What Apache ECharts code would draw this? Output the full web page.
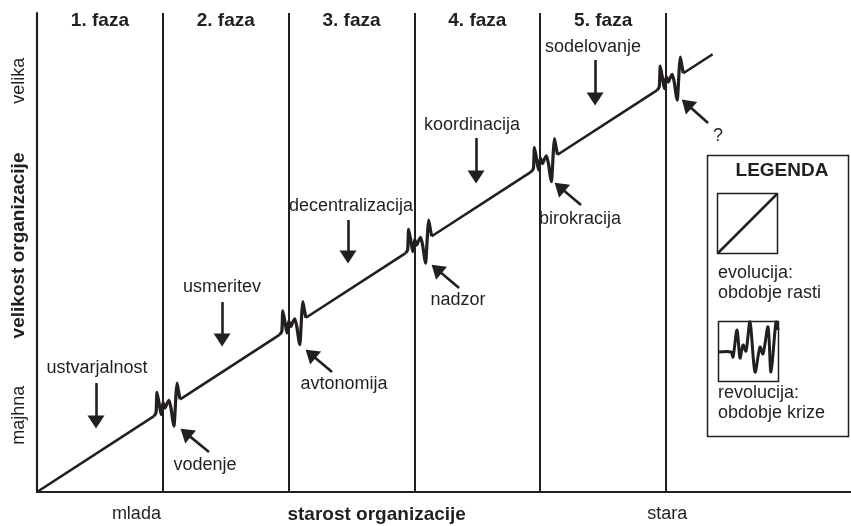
<!DOCTYPE html>
<html>
<head>
<meta charset="utf-8">
<title>Greinerjev model rasti organizacije</title>
<script src="https://cdn.jsdelivr.net/npm/echarts@6/dist/echarts.min.js"></script>
<style>
    html, body { margin: 0; padding: 0; background: #fff; }
    #chart_show { width: 851px; height: 526px; }
</style>
</head>
<body>
<div id="chart_show"></div>
<script>
// meje osi (enota = širina ene faze)
var xMax = 6.47;
var yMax = 3.808;

// faze
var phaseX = [1, 2, 3, 4, 5];
var phaseTitleX = [0.5, 1.5, 2.5, 3.5, 4.5];
var phaseTitleY = 3.744;
var phaseTitles = ['1. faza', '2. faza', '3. faza', '4. faza', '5. faza'];

// evolucija - začetek in konec krivulje rasti
var growthStart = [0, 0];
var growthEnd = [5.37, 3.48];

// revolucija - kje se začne vsaka kriza in oblika krize
var crisisX = [0.93, 1.93, 2.93, 3.93, 4.93];
var crisisY = [0.603, 1.251, 1.899, 2.547, 3.195];
var wiggleDx = [0, 0.016, 0.024, 0.040, 0.056, 0.072, 0.087, 0.103, 0.119, 0.135, 0.151, 0.159, 0.167, 0.175, 0.183, 0.195, 0.207];
var wiggleDy = [0, 0.026, 0.190, 0.105, 0.012, 0.110, 0.064, 0.099, 0.125, 0.064, -0.045, -0.079, 0.029, 0.177, 0.262, 0.198, 0.134];

// obdobja rasti (nad krivuljo)
var stageLabels = ['ustvarjalnost', 'usmeritev', 'decentralizacija', 'koordinacija', 'sodelovanje'];
var stageLabelX = [0.477, 1.471, 2.496, 3.458, 4.420];
var stageLabelY = [0.986, 1.630, 2.273, 2.917, 3.537];
var stageArrowX = [0.469, 1.471, 2.472, 3.490, 4.436];
var stageArrowTop = [0.866, 1.510, 2.162, 2.814, 3.434];
var stageArrowEnd = [0.556, 1.208, 1.868, 2.504, 3.124];

// krize (pod krivuljo)
var crisisLabels = ['vodenje', 'avtonomija', 'nadzor', 'birokracija', '?'];
var crisisLabelX = [1.335, 2.440, 3.347, 4.316, 5.413];
var crisisLabelY = [0.215, 0.859, 1.526, 2.170, 2.830];
var crisisArrowTailX = [1.367, 2.345, 3.355, 4.324, 5.334];
var crisisArrowTailY = [0.318, 0.954, 1.622, 2.281, 2.933];
var crisisArrowHeadX = [1.181, 2.175, 3.176, 4.154, 5.164];
var crisisArrowHeadY = [0.470, 1.098, 1.773, 2.425, 3.085];

// oznake osi
var xLabelValues = [0.79, 2.70, 5.01];
var xLabels = ['mlada', '{b|starost organizacije}', 'stara'];
var yLabelValues = [0.61, 1.96, 3.27];
var yLabels = ['majhna', '{b|velikost organizacije}', 'velika'];

(function () {
    var ink = '#231f20';
    var font = '"Liberation Sans", Arial, Helvetica, sans-serif';

    var Growth_Chart = {
        init: function () {
            var myChart = echarts.init(document.getElementById('chart_show'));
            myChart.setOption(this.formatChart());
        },
        textSeries: function (xs, ys, texts, size, weight) {
            return {
                type: 'scatter',
                silent: true,
                symbolSize: 1,
                itemStyle: { color: 'rgba(0,0,0,0)', opacity: 1 },
                data: xs.map(function (x, i) { return [x, ys[i], texts[i]]; }),
                label: {
                    show: true,
                    position: 'inside',
                    formatter: function (p) { return p.data[2]; },
                    color: ink,
                    opacity: 1,
                    fontFamily: font,
                    fontSize: size,
                    fontWeight: weight
                },
                z: 5
            };
        },
        buildSeries: function () {
            var series = [];
            var i, k;

            // navpične črte med fazami
            series.push({
                type: 'line',
                data: [],
                silent: true,
                markLine: {
                    silent: true,
                    symbol: 'none',
                    label: { show: false },
                    lineStyle: { color: ink, width: 2, type: 'solid' },
                    data: phaseX.map(function (x) { return { xAxis: x }; })
                }
            });

            // evolucija
            var last = wiggleDx.length - 1;
            var from = growthStart;
            for (i = 0; i <= crisisX.length; i++) {
                var to = i < crisisX.length ? [crisisX[i], crisisY[i]] : growthEnd;
                series.push({
                    type: 'line',
                    silent: true,
                    symbol: 'none',
                    lineStyle: { color: ink, width: 2.6 },
                    data: [from, to],
                    z: 3
                });
                if (i < crisisX.length) {
                    from = [crisisX[i] + wiggleDx[last], crisisY[i] + wiggleDy[last]];
                }
            }

            // revolucija
            for (i = 0; i < crisisX.length; i++) {
                var pts = [];
                for (k = 0; k < wiggleDx.length; k++) {
                    pts.push([crisisX[i] + wiggleDx[k], crisisY[i] + wiggleDy[k]]);
                }
                series.push({
                    type: 'line',
                    silent: true,
                    symbol: 'none',
                    smooth: 0.2,
                    lineStyle: { color: ink, width: 3.2 },
                    data: pts,
                    z: 4
                });
            }

            // puščice
            var arrows = [];
            for (i = 0; i < stageArrowX.length; i++) {
                arrows.push([{ coord: [stageArrowX[i], stageArrowTop[i]] }, { coord: [stageArrowX[i], stageArrowEnd[i]] }]);
            }
            for (i = 0; i < crisisArrowTailX.length; i++) {
                arrows.push([{ coord: [crisisArrowTailX[i], crisisArrowTailY[i]] }, { coord: [crisisArrowHeadX[i], crisisArrowHeadY[i]] }]);
            }
            series.push({
                type: 'line',
                data: [],
                silent: true,
                markLine: {
                    silent: true,
                    symbol: ['none', 'triangle'],
                    symbolSize: [17, 13],
                    label: { show: false },
                    lineStyle: { color: ink, width: 2.6, type: 'solid' },
                    itemStyle: { color: ink },
                    data: arrows
                }
            });

            series.push(this.textSeries(phaseTitleX, phaseTitleX.map(function () { return phaseTitleY; }), phaseTitles, 19, 'bold'));
            series.push(this.textSeries(stageLabelX, stageLabelY, stageLabels, 18, 'normal'));
            series.push(this.textSeries(crisisLabelX, crisisLabelY, crisisLabels, 18, 'normal'));

            return series;
        },
        buildLegend: function () {
            var txt = function (x, y, text, size, weight, align) {
                return {
                    type: 'text', x: x, y: y, silent: true,
                    style: {
                        text: text, fill: ink, font: weight + ' ' + size + 'px ' + font,
                        textAlign: align, textVerticalAlign: 'middle'
                    }
                };
            };
            return [
                { type: 'rect', silent: true, shape: { x: 707.5, y: 155.5, width: 141, height: 281 },
                  style: { fill: '#fff', stroke: ink, lineWidth: 1.5 }, z: 10 },
                txt(782, 171, 'LEGENDA', 19, 'bold', 'center'),
                { type: 'rect', silent: true, shape: { x: 717.5, y: 193.5, width: 60, height: 60 },
                  style: { fill: 'none', stroke: ink, lineWidth: 1.5 }, z: 11 },
                { type: 'line', silent: true, shape: { x1: 718, y1: 253, x2: 777, y2: 194 },
                  style: { stroke: ink, lineWidth: 2.5 }, z: 11 },
                txt(718, 273, 'evolucija:', 18, 'normal', 'left'),
                txt(718, 293, 'obdobje rasti', 18, 'normal', 'left'),
                { type: 'rect', silent: true, shape: { x: 718.5, y: 321.5, width: 60, height: 60 },
                  style: { fill: 'none', stroke: ink, lineWidth: 1.5 }, z: 11 },
                { type: 'polyline', silent: true,
                  shape: { smooth: 0.3, points: [[719, 352], [731, 352], [733, 357], [737, 330], [740, 358], [743, 345],
                      [746, 351], [750, 322], [755, 372], [760, 347], [763, 354], [768, 327], [771, 372], [776, 322], [778, 330]] },
                  style: { fill: 'none', stroke: ink, lineWidth: 3 }, z: 11 },
                txt(718, 393, 'revolucija:', 18, 'normal', 'left'),
                txt(718, 413, 'obdobje krize', 18, 'normal', 'left')
            ].map(function (g) { if (g.z === undefined) { g.z = 12; } return g; });
        },
        formatChart: function () {
            var axisLine = { show: true, lineStyle: { color: ink, width: 2.2 } };
            return {
                animation: false,
                backgroundColor: '#fff',
                grid: { left: 37, right: 0, top: 13, bottom: 34, outerBoundsMode: 'none' },
                xAxis: {
                    type: 'value', min: 0, max: xMax,
                    axisLine: axisLine,
                    axisTick: { show: false },
                    splitLine: { show: false },
                    axisLabel: {
                        customValues: xLabelValues,
                        margin: 13,
                        color: ink, fontFamily: font, fontSize: 18,
                        formatter: function (v) { return xLabels[xLabelValues.indexOf(v)]; },
                        rich: { b: { fontWeight: 'bold', fontSize: 19, fontFamily: font, color: ink } }
                    }
                },
                yAxis: {
                    type: 'value', min: 0, max: yMax,
                    axisLine: axisLine,
                    axisTick: { show: false },
                    splitLine: { show: false },
                    axisLabel: {
                        customValues: yLabelValues,
                        rotate: 90,
                        margin: 9,
                        color: ink, fontFamily: font, fontSize: 18,
                        formatter: function (v) { return yLabels[yLabelValues.indexOf(v)]; },
                        rich: { b: { fontWeight: 'bold', fontSize: 19, fontFamily: font, color: ink } }
                    }
                },
                graphic: this.buildLegend(),
                series: this.buildSeries()
            };
        }
    };

    Growth_Chart.init();
})();
</script>
</body>
</html>
